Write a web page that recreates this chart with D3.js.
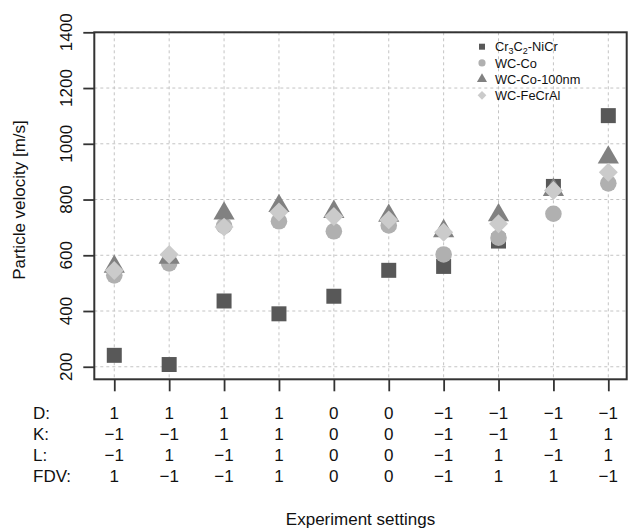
<!DOCTYPE html>
<html><head><meta charset="utf-8">
<script src="https://cdn.jsdelivr.net/npm/d3@7"></script>
<style>
html,body{margin:0;padding:0;background:#fff;}
svg{display:block;font-family:"Liberation Sans",Arial,sans-serif;}
</style></head>
<body><svg id="c" width="628" height="530"></svg>
<script>
const runs = [1,2,3,4,5,6,7,8,9,10];
const seriesNames = ["Cr3C2-NiCr","WC-Co","WC-Co-100nm","WC-FeCrAl"];
const cr3c2NiCr  = [241, 208, 436, 390, 453, 546, 560, 651, 847, 1101];
const wcCo       = [528, 571, 705, 722, 686, 707, 603, 663, 749, 858];
const wcCo100nm  = [559, 592, 750, 777, 756, 742, 687, 744, 835, 951];
const wcFeCrAl   = [545, 603, 701, 755, 739, 727, 683, 713, 832, 898];
const yTicks = [200,400,600,800,1000,1200,1400];
const rowLabels = ["D:","K:","L:","FDV:"];
const settingD   = [1,1,1,1,0,0,-1,-1,-1,-1];
const settingK   = [-1,-1,1,1,0,0,-1,-1,1,1];
const settingL   = [-1,1,-1,1,0,0,-1,1,-1,1];
const settingFDV = [1,-1,-1,1,0,0,-1,1,1,-1];
const xTitle = "Experiment settings";
const yTitle = "Particle velocity [m/s]";

const svg = d3.select("#c");
const L = 94.3, R = 626.7, T = 32.3, B = 379.3;
const x = d3.scaleLinear().domain([0.636, 10.335]).range([L, R]);
const y = d3.scaleLinear().domain([155, 1400]).range([B, T]);

// grid
const grid = svg.append("g").attr("stroke","#c4c4c4").attr("stroke-width",1).attr("stroke-dasharray","3,3");
grid.selectAll("line.v").data(runs).enter().append("line")
  .attr("x1",d=>x(d)).attr("x2",d=>x(d)).attr("y1",T).attr("y2",B);
grid.selectAll("line.h").data(yTicks).enter().append("line")
  .attr("x1",L).attr("x2",R).attr("y1",d=>y(d)).attr("y2",d=>y(d));

// axes
const fmt = v => v < 0 ? "\u2212" + Math.abs(v) : String(v);
const yAxis = svg.append("g").attr("transform",`translate(${L},0)`)
  .call(d3.axisLeft(y).tickValues(yTicks).tickSize(11).tickFormat(""));
yAxis.select(".domain").remove();
yAxis.selectAll(".tick line").attr("stroke","#333").attr("stroke-width",1.8);
svg.append("g").selectAll("text").data(yTicks).enter().append("text")
  .attr("transform",d=>`translate(72,${y(d)}) rotate(-90)`)
  .attr("text-anchor","middle").attr("font-size",17).attr("fill","#111").text(d=>d);

const xAxis = svg.append("g").attr("transform",`translate(0,${B})`)
  .call(d3.axisBottom(x).tickValues(runs).tickSize(12).tickFormat(""));
xAxis.select(".domain").remove();
xAxis.selectAll(".tick line").attr("stroke","#333").attr("stroke-width",1.8);

// box
svg.append("rect").attr("x",L).attr("y",T).attr("width",R-L).attr("height",B-T)
  .attr("fill","none").attr("stroke","#333").attr("stroke-width",2);

// points
const series = [
  {vals: cr3c2NiCr, sym: d3.symbolSquare, size: 225, rot: 0, color:"#585858"},
  {vals: wcCo, sym: d3.symbolCircle, size: 216, rot: 0, color:"#b0b0b0"},
  {vals: wcCo100nm, sym: d3.symbolTriangle, size: 195, rot: 0, color:"#818181"},
  {vals: wcFeCrAl, sym: d3.symbolSquare, size: 180, rot: 45, color:"#cbcbcb"}
];
series.forEach(s => {
  svg.append("g").selectAll("path").data(s.vals).enter().append("path")
    .attr("d", d3.symbol().type(s.sym).size(s.size)())
    .attr("transform",(d,i)=>`translate(${x(runs[i])},${y(d)}) rotate(${s.rot})`)
    .attr("fill", s.color);
});

// legend
const leg = svg.append("g").attr("transform","translate(482,46.7)");
const legSizes = [36, 40, 44, 38];
series.forEach((s,i) => {
  const g = leg.append("g").attr("transform",`translate(0,${i*16.2})`);
  g.append("path").attr("d", d3.symbol().type(s.sym).size(legSizes[i])())
    .attr("transform",`rotate(${s.rot})`).attr("fill", s.color);
  const t = g.append("text").attr("x",13).attr("y",4.6).attr("font-size",12.8).attr("fill","#111");
  if (i === 0) {
    t.append("tspan").text("Cr");
    t.append("tspan").attr("font-size",9).attr("dy",3).text("3");
    t.append("tspan").attr("dy",-3).text("C");
    t.append("tspan").attr("font-size",9).attr("dy",3).text("2");
    t.append("tspan").attr("dy",-3).text("-NiCr");
  } else {
    t.text(seriesNames[i]);
  }
});

// settings table
const rows = [settingD, settingK, settingL, settingFDV];
const baselines = [418.5, 439.5, 460.5, 481.5];
rows.forEach((r,ri) => {
  svg.append("text").attr("x",33).attr("y",baselines[ri]).attr("font-size",17).attr("fill","#111").text(rowLabels[ri]);
  svg.append("g").selectAll("text").data(r).enter().append("text")
    .attr("x",(d,i)=>x(runs[i])).attr("y",baselines[ri]).attr("text-anchor","middle")
    .attr("font-size",17).attr("fill","#111").text(d=>fmt(d));
});

// titles
svg.append("text").attr("x",(L+R)/2).attr("y",524.5).attr("text-anchor","middle")
  .attr("font-size",17).attr("fill","#111").text(xTitle);
svg.append("text").attr("transform",`translate(25,200) rotate(-90)`).attr("text-anchor","middle")
  .attr("font-size",17).attr("fill","#111").text(yTitle);
</script></body></html>
